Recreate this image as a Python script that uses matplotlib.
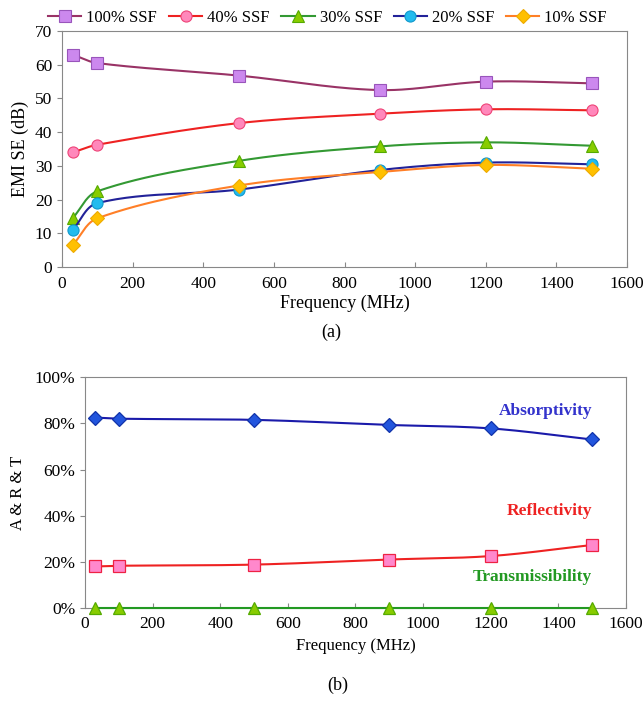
import numpy as np
import matplotlib.pyplot as plt
from matplotlib.ticker import FuncFormatter

plt.rcParams['font.family'] = ['Liberation Serif', 'DejaVu Serif']

freq = [30, 100, 500, 900, 1200, 1500]
labels_a = ['100% SSF', '40% SSF', '30% SSF', '20% SSF', '10% SSF']
se_100 = [63.0, 60.5, 56.8, 52.5, 55.0, 54.5]
se_40 = [34.0, 36.3, 42.7, 45.5, 46.8, 46.5]
se_30 = [14.5, 22.5, 31.5, 35.8, 37.0, 36.0]
se_20 = [11.0, 19.0, 23.0, 28.8, 31.0, 30.5]
se_10 = [6.5, 14.5, 24.2, 28.2, 30.3, 29.2]

absorb = [82.5, 82.0, 81.5, 79.3, 77.8, 73.0]
reflect = [18.0, 18.3, 18.8, 21.0, 22.5, 27.3]
trans = [0, 0, 0, 0, 0, 0]


def smooth(x, y, sx=565.0 / 1600, sy=236.0 / 70, n=30):
    # catmull-rom in pixel-ish space, like excel's smoothed line
    p = np.column_stack([np.array(x) * sx, np.array(y) * sy])
    p = np.vstack([p[0] - (p[1] - p[0]), p, p[-1] + (p[-1] - p[-2])])
    out = []
    for i in range(1, len(p) - 2):
        p0, p1, p2, p3 = p[i - 1], p[i], p[i + 1], p[i + 2]
        # centripetal-ish tangents scaled to segment length
        d = np.linalg.norm(p2 - p1)
        m1 = (p2 - p0) / max(np.linalg.norm(p2 - p0), 1e-9) * d * 0.5
        m2 = (p3 - p1) / max(np.linalg.norm(p3 - p1), 1e-9) * d * 0.5
        t = np.linspace(0, 1, n)[:, None]
        h00 = 2 * t ** 3 - 3 * t ** 2 + 1
        h10 = t ** 3 - 2 * t ** 2 + t
        h01 = -2 * t ** 3 + 3 * t ** 2
        h11 = t ** 3 - t ** 2
        out.append(h00 * p1 + h10 * m1 * 2 + h01 * p2 + h11 * m2 * 2)
    out = np.vstack(out)
    return out[:, 0] / sx, out[:, 1] / sy


fig = plt.figure(figsize=(6.44, 7.05), dpi=100)
ax1 = fig.add_axes([0.0963, 0.621, 0.8773, 0.335])
ax2 = fig.add_axes([0.132, 0.1376, 0.840, 0.3274])

styles = [
    (se_100, '#993366', 's', '#CC88EE', '#9955BB'),
    (se_40, '#EE2222', 'o', '#FF88BB', '#EE4477'),
    (se_30, '#339933', '^', '#88CC00', '#55AA00'),
    (se_20, '#222299', 'o', '#22BBEE', '#1199CC'),
    (se_10, '#FF7F27', 'D', '#FFC000', '#EEAA00'),
]
handles = []
for (vals, lc, mk, fc, ec), lab in zip(styles, labels_a):
    sxs, sys_ = smooth(freq, vals)
    ax1.plot(sxs, sys_, color=lc, lw=1.5)
    ax1.plot(freq, vals, ls='none', marker=mk, ms=8 if mk != 'D' else 7,
             mfc=fc, mec=ec, mew=0.8)
    h, = ax1.plot([], [], color=lc, lw=1.5, marker=mk, ms=8 if mk != 'D' else 7,
                  mfc=fc, mec=ec, mew=0.8)
    handles.append(h)

ax1.set_xlim(0, 1600)
ax1.set_ylim(0, 70)
ax1.set_xticks(range(0, 1601, 200))
ax1.set_yticks(range(0, 71, 10))
ax1.set_xlabel('Frequency (MHz)', fontsize=13, labelpad=2)
ax1.set_ylabel('EMI SE (dB)', fontsize=13, labelpad=4)
ax1.legend(handles, labels_a, loc='lower center', bbox_to_anchor=(0.47, 0.995),
           ncol=5, frameon=False, fontsize=12, handlelength=2.0,
           handletextpad=0.3, columnspacing=0.7, borderaxespad=0)
fig.text(0.515, 0.522, '(a)', ha='center', fontsize=13)

bsx, bsy = 541.0 / 1600, 231.0 / 100
for vals, lc, mk, ms, fc, ec, z in [
        (absorb, '#1A1AAA', 'D', 7, '#2255DD', '#1133AA', 3),
        (reflect, '#EE2222', 's', 8, '#FF88CC', '#EE2244', 3),
        (trans, '#229922', '^', 8, '#88CC00', '#55AA00', 5)]:
    sxs, sys_ = smooth(freq, vals, bsx, bsy)
    ax2.plot(sxs, sys_, color=lc, lw=1.5, clip_on=False, zorder=z)
    ax2.plot(freq, vals, ls='none', marker=mk, ms=ms, mfc=fc, mec=ec,
             mew=0.9, clip_on=False, zorder=z)
ax2.set_xlim(0, 1600)
ax2.set_ylim(0, 100)
ax2.set_xticks(range(0, 1601, 200))
ax2.set_yticks(range(0, 101, 20))
ax2.yaxis.set_major_formatter(FuncFormatter(lambda v, p: '%d%%' % v))
ax2.set_xlabel('Frequency (MHz)', fontsize=12, labelpad=4)
ax2.set_ylabel('A & R & T', fontsize=12, labelpad=6)
ax2.text(1500, 85.5, 'Absorptivity', color='#3333CC', fontsize=12.5,
         fontweight='bold', ha='right', va='center')
ax2.text(1500, 42, 'Reflectivity', color='#EE2222', fontsize=12.5,
         fontweight='bold', ha='right', va='center')
ax2.text(1500, 13.5, 'Transmissibility', color='#229922', fontsize=12.5,
         fontweight='bold', ha='right', va='center')
fig.text(0.525, 0.022, '(b)', ha='center', fontsize=13)

for ax in (ax1, ax2):
    for s in ax.spines.values():
        s.set_color('#888888')
    ax.tick_params(axis='x', direction='in', color='#888888', labelsize=12.5, pad=6)
    ax.tick_params(axis='y', direction='out', color='#888888', labelsize=12.5)

fig.savefig('out.png', dpi=100)
